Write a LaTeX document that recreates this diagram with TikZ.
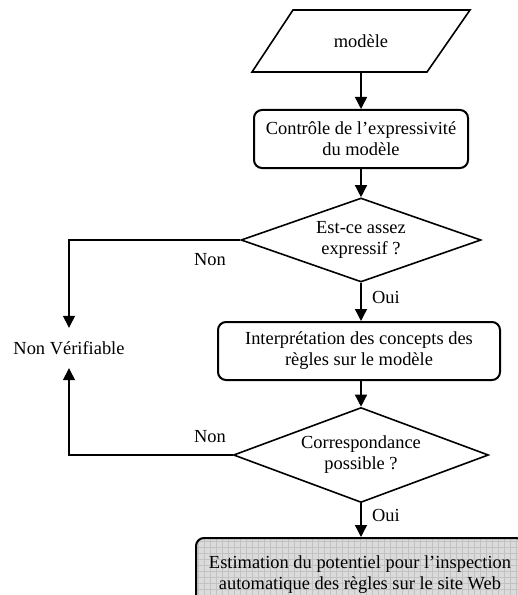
\documentclass[tikz,border=0pt]{standalone}
\usepackage{fontspec}
\setmainfont{Liberation Serif}
\usetikzlibrary{shapes.geometric,arrows.meta}
\begin{document}
\begin{tikzpicture}[x=1bp,y=-1bp,
  font=\fontsize{18.5}{21}\selectfont,
  every node/.style={align=center},
  flow/.style={line width=1.4bp,-{Triangle[length=12bp,width=12bp]}},
  procbox/.style={draw,line width=2bp,rounded corners=8bp,inner sep=0pt},
  decision/.style={draw,line width=1.6bp,diamond,inner sep=0pt},
  lbl/.style={inner sep=0pt}]
\useasboundingbox (0,0) rectangle (518,595);

% input parallelogram
\node[inner sep=0pt,minimum height=62bp,minimum width=10bp] (model) at (361,41) {modèle};
\draw[line width=1.6bp] (293,10) -- (470,10) -- (427,72) -- (252,72) -- cycle;

\node[procbox,minimum width=214bp,minimum height=58bp] (ctrl) at (361,139)
  {Contrôle de l’expressivité\\du modèle};

\node[decision,minimum width=240bp,minimum height=84bp,shape aspect=2.8] (q1) at (361,240)
  {Est-ce assez\\expressif ?};

\node[procbox,minimum width=282bp,minimum height=58bp] (interp) at (359,351)
  {Interprétation des concepts des\\règles sur le modèle};

\node[decision,minimum width=255bp,minimum height=95bp,shape aspect=2.7] (q2) at (361,455)
  {Correspondance\\possible ?};

\node[procbox,fill=black!14,minimum width=328bp,minimum height=66bp,
  path picture={\draw[black!24,line width=0.4bp,step=6bp]
    (path picture bounding box.south west) grid (path picture bounding box.north east);}]
  (est) at (360,571) {};
\node[lbl] (esttext) at (360,575) {Estimation du potentiel pour l’inspection\\automatique des règles sur le site Web};

\node[lbl,minimum height=40bp] (nv) at (69,348) {Non Vérifiable};

\coordinate (c1) at (69,240);
\coordinate (c2) at (69,455);

\draw[flow] (model.south) -- (ctrl.north);
\draw[flow] (ctrl.south) -- (q1.north);
\draw[flow] (q1.south) -- (interp.north -| q1.south);
\draw[flow] (interp.south -| q1.south) -- (q2.north);
\draw[flow] (q2.south) -- (est.north -| q2.south);
\draw[flow] (q1.west) -- (c1) -- (nv.north);
\draw[flow] (q2.west) -- (c2) -- (nv.south);

\node[lbl] (non1) at (210,260) {Non};
\node[lbl] (non2) at (210,437) {Non};
\node[lbl] (oui1) at (386,297) {Oui};
\node[lbl] (oui2) at (386,515) {Oui};
\end{tikzpicture}
\end{document}
